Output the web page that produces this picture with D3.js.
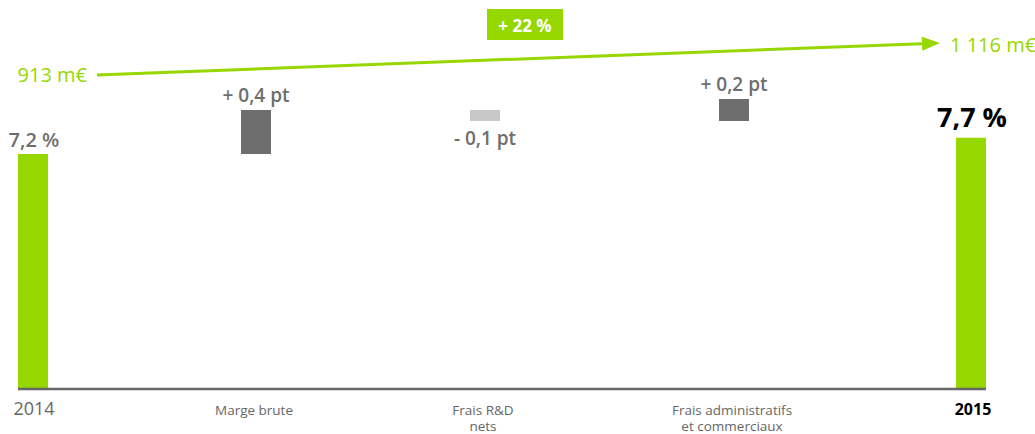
<!DOCTYPE html>
<html><head><meta charset="utf-8">
<script src="https://cdn.jsdelivr.net/npm/d3@7"></script>
<style>
html,body{margin:0;padding:0;background:#fff;}
svg{display:block;font-family:"Open Sans",sans-serif;}
</style></head>
<body><svg id="c" width="1035" height="434"></svg>
<script>
// ---- data ----
const categories = ["2014", "Marge brute", "Frais R&D nets", "Frais administratifs et commerciaux", "2015"];
const categoryLines = [["2014"], ["Marge brute"], ["Frais R&D", "nets"], ["Frais administratifs", "et commerciaux"], ["2015"]];
const totals = [7.2, null, null, null, 7.7];          // margin %, totals
const deltas = [null, 0.4, -0.1, 0.2, null];          // variation in pt
const totalLabels = ["7,2 %", null, null, null, "7,7 %"];
const deltaLabels = [null, "+ 0,4 pt", "- 0,1 pt", "+ 0,2 pt", null];
const revenue = [913, 1116];
const revenueLabels = ["913 m€", "1 116 m€"];
const growthLabel = "+ 22 %";

// ---- layout ----
const green = "#97d700", dark = "#6e6e6e", light = "#c8c8c8", grey = "#666";
const svg = d3.select("#c");
const x = d3.scaleOrdinal().domain(categories).range([33, 256, 485, 734, 971]);
const barW = 30;
const y = d3.scaleLinear().domain([0, 7.7]).range([388, 388 - 7.7 * 32.5]);
// expanded scale for the bridge (variations drawn enlarged)
const yD = d3.scaleLinear().domain([7.2, 7.7]).range([y(7.2), y(7.2) - 55]);

// total bars
categories.forEach((c, i) => {
  if (totals[i] == null) return;
  svg.append("rect").attr("x", x(c) - barW / 2).attr("width", barW)
    .attr("y", y(totals[i])).attr("height", y(0) - y(totals[i])).attr("fill", green);
  const last = i === categories.length - 1;
  svg.append("text").attr("x", x(c) + (last ? 1 : 1)).attr("y", y(totals[i]) - (last ? 11 : 7))
    .attr("text-anchor", "middle")
    .attr("font-size", last ? 27 : 20).attr("font-weight", last ? 700 : 600)
    .attr("fill", last ? "#000" : dark).text(totalLabels[i]);
});

// delta bars
let cum = totals[0];
categories.forEach((c, i) => {
  if (deltas[i] == null) return;
  const start = cum, end = cum + deltas[i];
  cum = end;
  const top = yD(Math.max(start, end)), bot = yD(Math.min(start, end));
  const pos = deltas[i] > 0;
  svg.append("rect").attr("x", x(c) - barW / 2).attr("width", barW)
    .attr("y", top).attr("height", bot - top).attr("fill", pos ? dark : light);
  svg.append("text").attr("x", x(c)).attr("y", pos ? top - 8 : bot + 24)
    .attr("text-anchor", "middle").attr("font-size", 19).attr("font-weight", 600)
    .attr("fill", dark).text(deltaLabels[i]);
});

// baseline
svg.append("line").attr("x1", 18).attr("x2", 986).attr("y1", y(0) + 1).attr("y2", y(0) + 1)
  .attr("stroke", grey).attr("stroke-width", 2.5);

// category labels
categories.forEach((c, i) => {
  const first = i === 0, last = i === categories.length - 1;
  const t = svg.append("text").attr("text-anchor", "middle")
    .attr("fill", last ? "#000" : grey)
    .attr("font-size", first ? 18 : (last ? 16 : 13.5))
    .attr("font-weight", last ? 700 : 400);
  categoryLines[i].forEach((ln, k) => {
    t.append("tspan").attr("x", x(c) + (first ? 1 : (last ? 2 : -2))).attr("y", 415 + k * 16).text(ln);
  });
});

// revenue growth arrow
const xr = d3.scaleOrdinal().domain(revenue).range([97, 940]);
const yr = d3.scaleLinear().domain([913, 1116]).range([75, 43]);
const x0 = xr(revenue[0]), x1 = xr(revenue[1]), y0 = yr(revenue[0]), y1 = yr(revenue[1]);
const ang = Math.atan2(y1 - y0, x1 - x0);
const head = 18, hw = 7;
const bx = x1 - head * Math.cos(ang), by = y1 - head * Math.sin(ang);
svg.append("line").attr("x1", x0).attr("y1", y0).attr("x2", bx).attr("y2", by)
  .attr("stroke", green).attr("stroke-width", 3);
svg.append("path").attr("fill", green).attr("d",
  `M${x1},${y1}L${bx - hw * Math.sin(ang)},${by + hw * Math.cos(ang)}L${bx + hw * Math.sin(ang)},${by - hw * Math.cos(ang)}Z`);
svg.append("text").attr("x", x0 - 10).attr("y", y0 + 7).attr("text-anchor", "end")
  .attr("font-size", 20).attr("font-weight", 500).attr("fill", green).text(revenueLabels[0]);
svg.append("text").attr("x", x1 + 10).attr("y", y1 + 9).attr("text-anchor", "start")
  .attr("font-size", 20).attr("font-weight", 500).attr("fill", green).text(revenueLabels[1]);

// growth badge
svg.append("rect").attr("x", 487).attr("y", 9).attr("width", 76).attr("height", 31).attr("fill", green);
svg.append("text").attr("x", 525).attr("y", 32).attr("text-anchor", "middle")
  .attr("font-size", 17).attr("font-weight", 700).attr("fill", "#fff").text(growthLabel);
</script></body></html>
